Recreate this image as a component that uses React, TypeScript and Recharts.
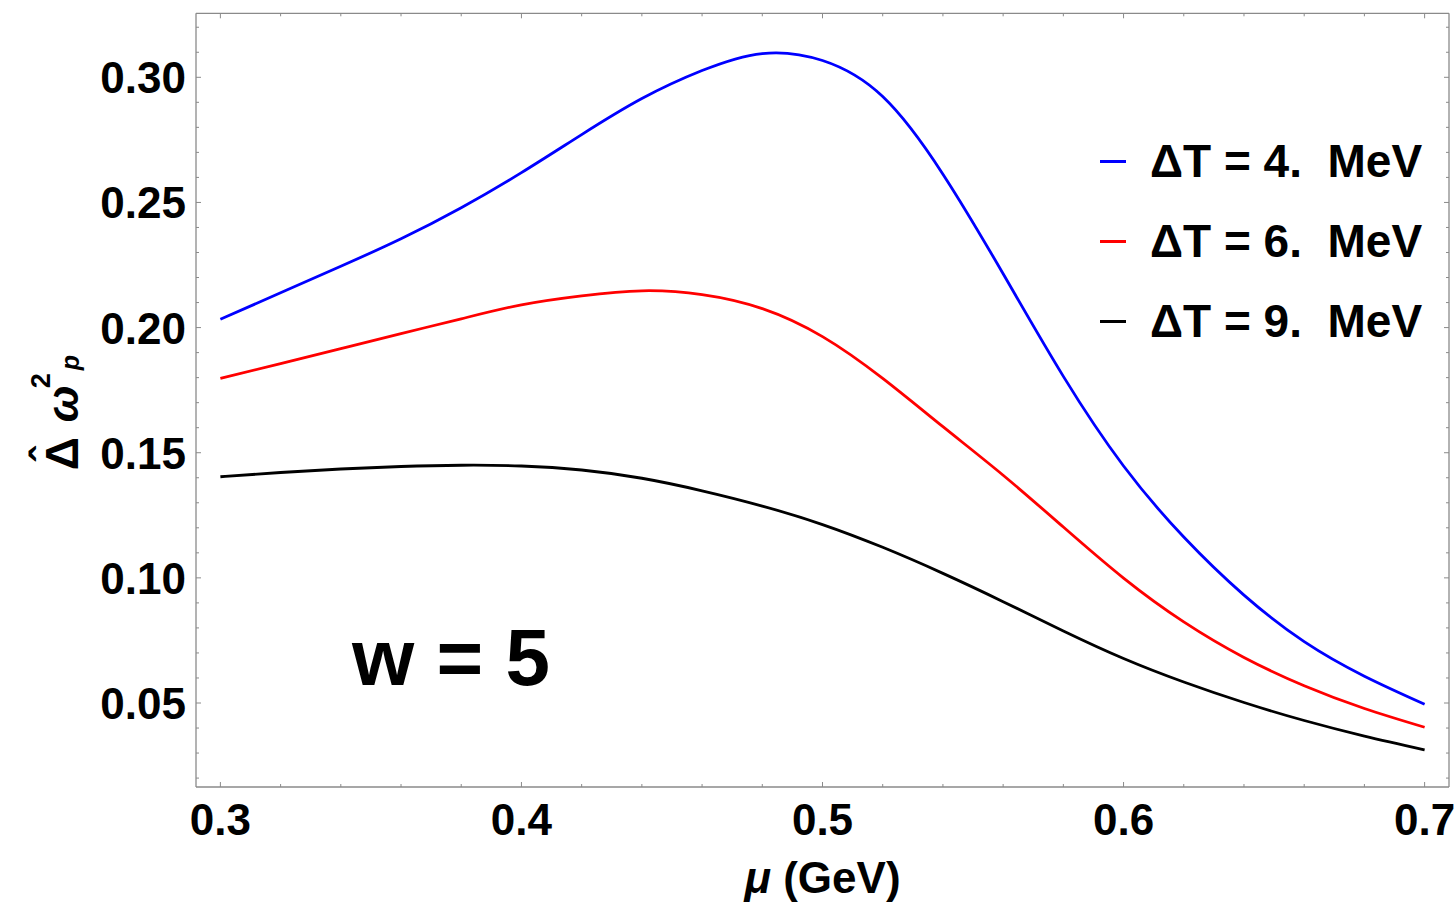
import React from 'react';
import { LineChart, Line, XAxis, YAxis, Legend } from 'recharts';

// mu in GeV
const mu = [0.3, 0.32, 0.34, 0.36, 0.38, 0.4, 0.42, 0.44, 0.46, 0.48, 0.5, 0.52, 0.54, 0.56, 0.58, 0.6, 0.62, 0.64, 0.66, 0.68, 0.7];
const dT4 = [0.2033, 0.2139, 0.2245, 0.2355, 0.2479, 0.2619, 0.2771, 0.2915, 0.3027, 0.3095, 0.3067, 0.2923, 0.2613, 0.2215, 0.1805, 0.1447, 0.1163, 0.0931, 0.0745, 0.0607, 0.0495];
const dT6 = [0.1797, 0.1856, 0.1916, 0.1976, 0.2035, 0.2091, 0.2127, 0.2147, 0.2132, 0.2076, 0.1964, 0.1797, 0.1604, 0.141, 0.1203, 0.0999, 0.0824, 0.0682, 0.0569, 0.0478, 0.0403];
const dT9 = [0.1404, 0.1421, 0.1435, 0.1445, 0.145, 0.1447, 0.1431, 0.1398, 0.1348, 0.1287, 0.1213, 0.1122, 0.1018, 0.0905, 0.0788, 0.0678, 0.0584, 0.0502, 0.043, 0.0368, 0.0313];
const seriesNames = ['ΔT = 4.  MeV', 'ΔT = 6.  MeV', 'ΔT = 9.  MeV'];

const xMajor = [0.3, 0.4, 0.5, 0.6, 0.7];
const xMinor = [0.32, 0.34, 0.36, 0.38, 0.42, 0.44, 0.46, 0.48, 0.52, 0.54, 0.56, 0.58, 0.62, 0.64, 0.66, 0.68];
const yMajor = [0.05, 0.1, 0.15, 0.2, 0.25, 0.3];
const yMinor = [0.02, 0.03, 0.04, 0.06, 0.07, 0.08, 0.09, 0.11, 0.12, 0.13, 0.14, 0.16, 0.17, 0.18, 0.19, 0.21, 0.22, 0.23, 0.24, 0.26, 0.27, 0.28, 0.29, 0.31, 0.32];

const data = mu.map((m, i) => ({ mu: m, dT4: dT4[i], dT6: dT6[i], dT9: dT9[i] }));

const font = "'Liberation Sans', Arial, sans-serif";
const frame = '#8a8a8a';
const xDomain = [0.2919, 0.7081];
const yDomain = [0.01644, 0.32557];

const isMajor = (list: number[], v: number) => list.some((m) => Math.abs(m - v) < 1e-6);

const BottomTick = (props: any) => {
  const { x, y, payload } = props;
  const major = isMajor(xMajor, payload.value);
  return (
    <g>
      <line x1={x} x2={x} y1={y} y2={y - (major ? 5 : 3)} stroke={frame} />
      {major && (
        <text x={x} y={y + 48} textAnchor="middle" fontFamily={font} fontWeight="bold" fontSize={44} fill="#000">
          {payload.value.toFixed(1)}
        </text>
      )}
    </g>
  );
};

const TopTick = (props: any) => {
  const { x, y, payload } = props;
  const major = isMajor(xMajor, payload.value);
  return <line x1={x} x2={x} y1={y} y2={y + (major ? 5 : 3)} stroke={frame} />;
};

const LeftTick = (props: any) => {
  const { x, y, payload } = props;
  const major = isMajor(yMajor, payload.value);
  return (
    <g>
      <line x1={x} x2={x + (major ? 5 : 3)} y1={y} y2={y} stroke={frame} />
      {major && (
        <text x={x - 10} y={y + 16} textAnchor="end" fontFamily={font} fontWeight="bold" fontSize={44} fill="#000">
          {payload.value.toFixed(2)}
        </text>
      )}
    </g>
  );
};

const RightTick = (props: any) => {
  const { x, y, payload } = props;
  const major = isMajor(yMajor, payload.value);
  return <line x1={x} x2={x - (major ? 5 : 3)} y1={y} y2={y} stroke={frame} />;
};

const renderXLabel = (props: any) => {
  const vb = props.viewBox;
  return (
    <text
      x={vb.x + vb.width / 2}
      y={vb.y + 106}
      textAnchor="middle"
      fontFamily={font}
      fontWeight="bold"
      fontSize={44}
      fill="#000"
      style={{ whiteSpace: 'pre' }}
    >
      <tspan fontStyle="italic">μ</tspan>
      <tspan> (GeV)</tspan>
    </text>
  );
};

const renderYLabel = (props: any) => {
  const vb = props.viewBox;
  const tx = vb.x + 78;
  const ty = vb.y + vb.height / 2 + 70;
  return (
    <g transform={`translate(${tx},${ty}) rotate(-90)`} fontFamily={font} fontWeight="bold" fill="#000">
      <text x={0} y={0} fontSize={46}>Δ</text>
      <text x={16} y={-16} fontSize={44} textAnchor="middle">ˆ</text>
      <text x={48} y={0} fontSize={44} fontStyle="italic">ω</text>
      <text x={82} y={-28} fontSize={27}>2</text>
      <text x={100} y={1} fontSize={25} fontStyle="italic">p</text>
    </g>
  );
};

const renderLegend = (props: any) => {
  const items = (props.payload || []).filter((e: any) => seriesNames.includes(e.value));
  return (
    <div style={{ fontFamily: font, fontWeight: 'bold', fontSize: 46, color: '#000' }}>
      {items.map((entry: any) => (
        <div key={entry.value} style={{ display: 'flex', alignItems: 'center', height: 80 }}>
          <span style={{ display: 'inline-block', width: 26, height: 3, background: entry.color, marginRight: 24 }} />
          <span style={{ whiteSpace: 'pre' }}>{entry.value}</span>
        </div>
      ))}
    </div>
  );
};

export default function App() {
  return (
    <div style={{ position: 'absolute', left: 0, top: 0, width: 1455, height: 908, background: '#fff' }}>
      <LineChart width={1455} height={908} data={data} margin={{ top: 12.3, right: 5, bottom: 0, left: 0 }}>
        <XAxis
          dataKey="mu"
          type="number"
          domain={xDomain}
          allowDataOverflow
          ticks={[...xMajor, ...xMinor]}
          interval={0}
          height={121}
          tickSize={0}
          tickMargin={0}
          tickLine={false}
          axisLine={{ stroke: frame, strokeWidth: 1.3 }}
          tick={BottomTick}
          label={{ content: renderXLabel }}
        />
        <XAxis
          xAxisId="top"
          dataKey="mu"
          type="number"
          orientation="top"
          domain={xDomain}
          allowDataOverflow
          ticks={[...xMajor, ...xMinor]}
          interval={0}
          height={1}
          tickSize={0}
          tickMargin={0}
          tickLine={false}
          axisLine={{ stroke: frame, strokeWidth: 1.3 }}
          tick={TopTick}
        />
        <YAxis
          type="number"
          domain={yDomain}
          allowDataOverflow
          ticks={[...yMajor, ...yMinor]}
          interval={0}
          width={196}
          tickSize={0}
          tickMargin={0}
          tickLine={false}
          axisLine={{ stroke: frame, strokeWidth: 1.3 }}
          tick={LeftTick}
          label={{ content: renderYLabel }}
        />
        <YAxis
          yAxisId="right"
          type="number"
          orientation="right"
          domain={yDomain}
          allowDataOverflow
          ticks={[...yMajor, ...yMinor]}
          interval={0}
          width={1}
          tickSize={0}
          tickMargin={0}
          tickLine={false}
          axisLine={{ stroke: frame, strokeWidth: 1.3 }}
          tick={RightTick}
        />
        <Legend
          layout="horizontal"
          verticalAlign="middle"
          align="center"
          wrapperStyle={{ left: 1100, top: 121, width: 355 }}
          content={renderLegend}
        />
        <Line type="natural" dataKey="dT4" name={seriesNames[0]} stroke="#0000ff" strokeWidth={2.8} dot={false} isAnimationActive={false} />
        <Line type="natural" dataKey="dT6" name={seriesNames[1]} stroke="#ff0000" strokeWidth={2.8} dot={false} isAnimationActive={false} />
        <Line type="natural" dataKey="dT9" name={seriesNames[2]} stroke="#000000" strokeWidth={2.8} dot={false} isAnimationActive={false} />
        {/* invisible copy so the mirrored top/right frame axes are active */}
        <Line
          xAxisId="top"
          yAxisId="right"
          type="natural"
          dataKey="dT9"
          stroke="none"
          dot={false}
          activeDot={false}
          legendType="none"
          isAnimationActive={false}
        />
      </LineChart>
      <svg width={1455} height={908} style={{ position: 'absolute', left: 0, top: 0, pointerEvents: 'none' }}>
        <text x={352} y={685} fontFamily={font} fontWeight="bold" fontSize={80} fill="#000">
          w = 5
        </text>
      </svg>
    </div>
  );
}
